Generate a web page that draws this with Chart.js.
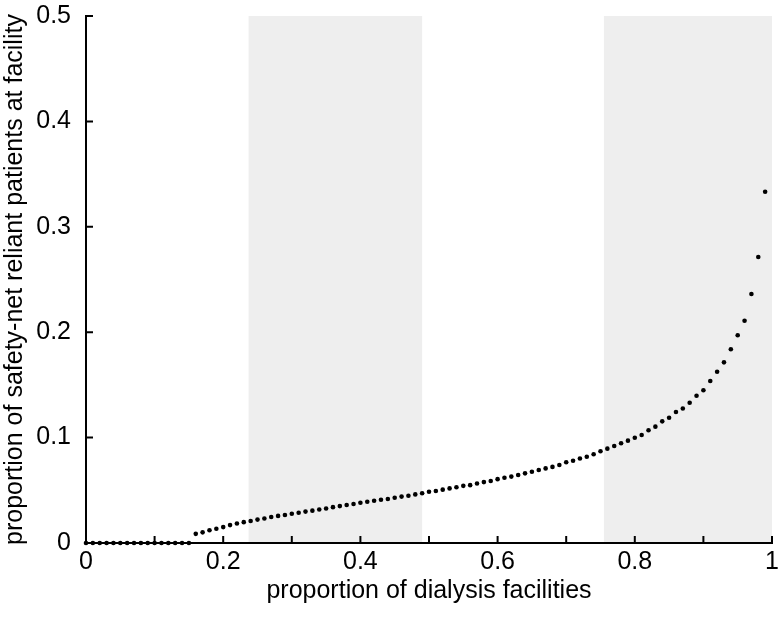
<!DOCTYPE html>
<html>
<head>
<meta charset="utf-8">
<script src="https://cdn.jsdelivr.net/npm/chart.js@4.4.1/dist/chart.umd.min.js"></script>
<style>
  html, body { margin: 0; padding: 0; background: #fff; }
  #wrap { width: 783px; height: 622px; position: relative; }
</style>
</head>
<body>
<div id="wrap"><canvas id="scatter-chart"></canvas></div>
<script>
const scatterChart = document.getElementById("scatter-chart");

// proportion of facilities (x) and share of safety-net reliant patients (y)
const facilityShare = [
  0.00, 0.01, 0.02, 0.03, 0.04, 0.05, 0.06, 0.07, 0.08, 0.09,
  0.10, 0.11, 0.12, 0.13, 0.14, 0.15, 0.16, 0.17, 0.18, 0.19,
  0.20, 0.21, 0.22, 0.23, 0.24, 0.25, 0.26, 0.27, 0.28, 0.29,
  0.30, 0.31, 0.32, 0.33, 0.34, 0.35, 0.36, 0.37, 0.38, 0.39,
  0.40, 0.41, 0.42, 0.43, 0.44, 0.45, 0.46, 0.47, 0.48, 0.49,
  0.50, 0.51, 0.52, 0.53, 0.54, 0.55, 0.56, 0.57, 0.58, 0.59,
  0.60, 0.61, 0.62, 0.63, 0.64, 0.65, 0.66, 0.67, 0.68, 0.69,
  0.70, 0.71, 0.72, 0.73, 0.74, 0.75, 0.76, 0.77, 0.78, 0.79,
  0.80, 0.81, 0.82, 0.83, 0.84, 0.85, 0.86, 0.87, 0.88, 0.89,
  0.90, 0.91, 0.92, 0.93, 0.94, 0.95, 0.96, 0.97, 0.98, 0.99
];
const safetyNetShare = [
  0, 0, 0, 0, 0, 0, 0, 0, 0, 0,
  0, 0, 0, 0, 0, 0, 0.0087, 0.0101, 0.0121, 0.0135,
  0.0151, 0.0170, 0.0185, 0.0198, 0.0209, 0.0222, 0.0233, 0.0247, 0.0257, 0.0266,
  0.0277, 0.0287, 0.0298, 0.0307, 0.0318, 0.0328, 0.0340, 0.0350, 0.0360, 0.0370,
  0.0382, 0.0392, 0.0401, 0.0411, 0.0418, 0.0430, 0.0440, 0.0449, 0.0461, 0.0472,
  0.0486, 0.0494, 0.0506, 0.0518, 0.0529, 0.0542, 0.0549, 0.0565, 0.0578, 0.0588,
  0.0606, 0.0619, 0.0630, 0.0645, 0.0661, 0.0676, 0.0692, 0.0708, 0.0722, 0.0740,
  0.0766, 0.0781, 0.0802, 0.0819, 0.0842, 0.0871, 0.0895, 0.0920, 0.0946, 0.0971,
  0.0999, 0.1025, 0.1070, 0.1104, 0.1154, 0.1189, 0.1243, 0.1276, 0.1331, 0.1397,
  0.1449, 0.1537, 0.1625, 0.1714, 0.1838, 0.1971, 0.2109, 0.2362, 0.2713, 0.3333
];

// grey bands behind the points
const bandStarts = [0.237, 0.755];
const bandEnds = [0.49, 1.0];

// axis ticks
const xTicks = [0, 0.1, 0.2, 0.3, 0.4, 0.5, 0.6, 0.7, 0.8, 0.9, 1];
const xTickLabels = ["0", "", "0.2", "", "0.4", "", "0.6", "", "0.8", "", "1"];
const yTicks = [0, 0.1, 0.2, 0.3, 0.4, 0.5];
const yTickLabels = ["0", "0.1", "0.2", "0.3", "0.4", "0.5"];

const FONT = "'Liberation Sans', Arial, Helvetica, sans-serif";
const FONT_SIZE = 25;

// drawn before the axes so the axis lines stay on top
const bandsPlugin = {
  id: 'bands',
  beforeDraw(chart) {
    const { ctx, scales: { x, y } } = chart;
    ctx.save();
    ctx.fillStyle = '#eeeeee';
    bandStarts.forEach((start, i) => {
      const left = x.getPixelForValue(start);
      const right = x.getPixelForValue(bandEnds[i]);
      const top = y.getPixelForValue(0.5);
      const bottom = y.getPixelForValue(0);
      ctx.fillRect(left, top, right - left, bottom - top);
    });
    ctx.restore();
  }
};

// tick marks point into the plot, like the original figure
const inwardTicks = {
  id: 'inwardTicks',
  afterDatasetsDraw(chart) {
    const { ctx, scales: { x, y } } = chart;
    const len = 7;
    ctx.save();
    ctx.strokeStyle = '#000';
    ctx.lineWidth = 2;
    ctx.beginPath();
    xTicks.forEach(v => {
      const px = x.getPixelForValue(v);
      ctx.moveTo(px, y.bottom);
      ctx.lineTo(px, y.bottom - len);
    });
    yTicks.forEach(v => {
      const py = y.getPixelForValue(v);
      ctx.moveTo(x.left, py);
      ctx.lineTo(x.left + len, py);
    });
    ctx.stroke();
    ctx.restore();
  }
};

const dataScatter = {
  type: 'scatter',
  data: {
    datasets: [{
      label: 'facilities',
      data: facilityShare.map((v, i) => ({ x: v, y: safetyNetShare[i] })),
      pointRadius: 2.3,
      pointBorderWidth: 0,
      pointBackgroundColor: '#000',
      borderColor: '#000',
    }]
  },
  options: {
    responsive: true,
    maintainAspectRatio: false,
    animation: false,
    clip: false,
    layout: {
      autoPadding: false,
      padding: { left: 0, top: 16, right: 11, bottom: 0 }
    },
    plugins: {
      legend: { display: false },
      tooltip: { enabled: false },
    },
    scales: {
      x: {
        type: 'linear',
        min: 0,
        max: 1,
        afterBuildTicks: (scale) => { scale.ticks = xTicks.map(v => ({ value: v })); },
        afterFit: (scale) => {
          scale.height = 79;
          scale.paddingLeft = 0;
          scale.paddingRight = 0;
        },
        grid: { display: false, drawTicks: false },
        border: { display: true, color: '#000', width: 2 },
        ticks: {
          autoSkip: false,
          maxRotation: 0,
          padding: 4,
          color: '#000',
          font: { family: FONT, size: FONT_SIZE },
          callback: (v, i) => xTickLabels[i],
        },
        title: {
          display: true,
          text: 'proportion of dialysis facilities',
          color: '#000',
          font: { family: FONT, size: FONT_SIZE },
          padding: { top: 0, bottom: 16 },
        }
      },
      y: {
        type: 'linear',
        min: 0,
        max: 0.5,
        afterBuildTicks: (scale) => { scale.ticks = yTicks.map(v => ({ value: v })); },
        afterFit: (scale) => {
          scale.width = 86;
          scale.paddingTop = 0;
          scale.paddingBottom = 0;
        },
        grid: { display: false, drawTicks: false },
        border: { display: true, color: '#000', width: 2 },
        ticks: {
          padding: 15,
          color: '#000',
          font: { family: FONT, size: FONT_SIZE },
          callback: (v, i) => yTickLabels[i],
        },
        title: {
          display: true,
          text: 'proportion of safety-net reliant patients at facility',
          color: '#000',
          font: { family: FONT, size: FONT_SIZE },
          padding: { top: 0, bottom: 0 },
        }
      }
    }
  },
  plugins: [bandsPlugin, inwardTicks]
};

const scatterView = new Chart(scatterChart, dataScatter);
</script>
</body>
</html>
